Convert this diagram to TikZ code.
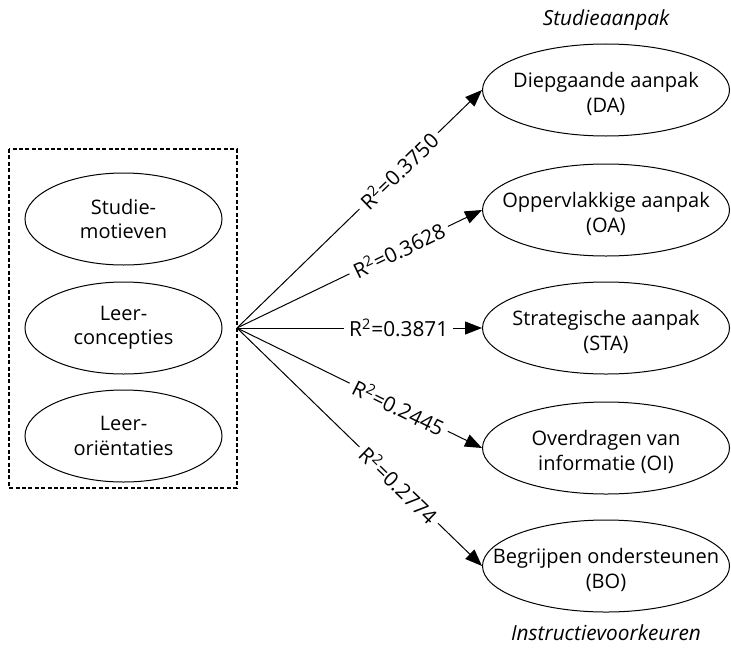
\documentclass[tikz,border=0pt]{standalone}
\usepackage{fontspec}
\setmainfont{Open Sans}
\usepackage{tikz}
\usetikzlibrary{
  arrows.meta,
  shapes.geometric}

\begin{document}
\begin{tikzpicture}[x=0.5pt,y=-0.5pt]
\tikzset{
  every node/.style={font=\fontsize{10}{12.2}\selectfont},
  factor/.style={draw,ellipse,line width=.5pt,minimum width=98.5pt,minimum height=46pt,inner sep=0pt},
  outcome/.style={draw,ellipse,line width=.5pt,minimum width=123.5pt,minimum height=46pt,inner sep=0pt},
  inside/.style={align=center,inner sep=0pt},
  regr/.style={line width=.5pt,-{Triangle[length=8.5pt,width=6.5pt]}},
  rsq/.style={sloped,pos=.66,fill=white,inner sep=2.5pt,font=\fontsize{10.4}{12.2}\selectfont},
  heading/.style={font=\fontsize{10.4}{12.2}\selectfont\itshape},
}
\useasboundingbox (0,0) rectangle (731,647);

% predictors
\draw[line width=1pt,dash pattern=on 2pt off 1.2pt] (9,149) rectangle (237,488);
\node[factor,label={[inside,name=SMtext]center:{Studie-\\motieven}}] (SM) at (123.5,219) {};
\node[factor,label={[inside,name=LCtext]center:{Leer-\\concepties}}] (LC) at (123.5,328) {};
\node[factor,label={[inside,name=LOtext]center:{Leer-\\oriëntaties}}] (LO) at (123.5,436) {};
\coordinate (hub) at (237,328);

% outcomes
\node[heading] (aanpak) at (606,20) {Studieaanpak};
\node[outcome,label={[inside,yshift=-2pt,name=DAtext]center:{Diepgaande aanpak\\(DA)}}] (DA) at (606,90) {};
\node[outcome,label={[inside,yshift=-2pt,name=OAtext]center:{Oppervlakkige aanpak\\(OA)}}] (OA) at (606,210) {};
\node[outcome,label={[inside,yshift=-2pt,name=STAtext]center:{Strategische aanpak\\(STA)}}] (STA) at (606,328) {};
\node[outcome,label={[inside,yshift=-2pt,name=OItext]center:{Overdragen van\\informatie (OI)}}] (OI) at (606,448) {};
\node[outcome,label={[inside,yshift=-2pt,name=BOtext]center:{Begrijpen ondersteunen\\(BO)}}] (BO) at (606,566) {};
\node[heading] (voorkeur) at (606,633) {Instructievoorkeuren};

% regressions
\draw[regr] (hub) -- node[rsq] {R\textsuperscript{2}=0.3750} (DA.west);
\draw[regr] (hub) -- node[rsq] {R\textsuperscript{2}=0.3628} (OA.west);
\draw[regr] (hub) -- node[rsq] {R\textsuperscript{2}=0.3871} (STA.west);
\draw[regr] (hub) -- node[rsq] {R\textsuperscript{2}=0.2445} (OI.west);
\draw[regr] (hub) -- node[rsq] {R\textsuperscript{2}=0.2774} (BO.west);
\end{tikzpicture}
\end{document}
